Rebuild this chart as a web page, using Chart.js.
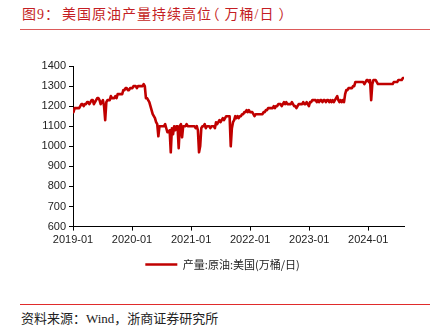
<!DOCTYPE html>
<html>
<head>
<meta charset="utf-8">
<script src="https://cdn.jsdelivr.net/npm/chart.js@4.4.1/dist/chart.umd.min.js"></script>
<style>
	body {
		margin: 0;
		width: 433px;
		height: 336px;
		background: #fff;
		position: relative;
		overflow: hidden;
		font-family: "Liberation Serif", "Noto Sans CJK SC", serif;
	}
	#title {
		position: absolute;
		left: 22px;
		top: 6px;
		font-size: 14px;
		line-height: 18px;
		letter-spacing: 1px;
		color: #c41e24;
		white-space: nowrap;
	}
	#title .unit { font-feature-settings: "palt"; }
	.rule {
		position: absolute;
		left: 20px;
		width: 410px;
		height: 1px;
	}
	#chartBox {
		position: absolute;
		left: 0;
		top: 40px;
		width: 433px;
		height: 250px;
	}
	#source {
		position: absolute;
		left: 21px;
		top: 311px;
		font-size: 13px;
		line-height: 16px;
		color: #222;
		white-space: nowrap;
	}
</style>
</head>
<body>
<div id="title">图9：<span style="margin-left:2px">美国原油产量持续高位</span><span class="unit">（ 万桶/日 ）</span></div>
<div class="rule" style="top:29px;background:#dc5a5a"></div>
<div id="chartBox"><canvas id="oilChart"></canvas></div>
<div class="rule" style="top:304px;background:#e02b2b"></div>
<div id="source">资料来源：Wind，浙商证券研究所</div>

<script>
// weekly US crude output, 万桶/日, one array per calendar year (Fridays)
const firstWeek = Date.UTC(2019, 0, 4);

const prod2019 = [1170, 1190, 1190, 1190, 1190, 1190, 1200, 1210, 1210, 1200,
	1210, 1210, 1220, 1220, 1210, 1220, 1230, 1230, 1210, 1220,
	1230, 1240, 1240, 1230, 1210, 1220, 1230, 1200, 1130, 1220,
	1230, 1230, 1230, 1250, 1240, 1240, 1240, 1250, 1240, 1260,
	1260, 1260, 1260, 1260, 1280, 1280, 1290, 1290, 1280, 1280,
	1290, 1290];

const prod2020 = [1290, 1300, 1300, 1300, 1290, 1300, 1300, 1300, 1300, 1300,
	1310, 1300, 1240, 1240, 1230, 1220, 1200, 1180, 1160, 1150,
	1140, 1120, 1110, 1050, 1100, 1100, 1100, 1100, 1100, 1110,
	1090, 1070, 1070, 1080, 970, 1090, 1060, 1100, 1080, 1100,
	1100, 990, 1100, 1110, 1045, 1100, 1100, 1100, 1110, 1100,
	1100, 1100];

const prod2021 = [1100, 1100, 1100, 1100, 1090, 1100, 1080, 970, 1000, 1090,
	1100, 1100, 1110, 1090, 1100, 1100, 1100, 1090, 1100, 1100,
	1100, 1090, 1120, 1110, 1120, 1130, 1120, 1130, 1140, 1130,
	1140, 1150, 1150, 1150, 1150, 1000, 1090, 1120, 1130, 1150,
	1140, 1150, 1140, 1150, 1150, 1160, 1160, 1170, 1170, 1180,
	1170, 1180, 1170];

const prod2022 = [1170, 1170, 1160, 1150, 1160, 1160, 1160, 1160, 1160, 1160,
	1160, 1170, 1170, 1180, 1180, 1190, 1190, 1190, 1190, 1190,
	1200, 1190, 1200, 1200, 1210, 1210, 1210, 1200, 1210, 1220,
	1210, 1220, 1210, 1210, 1210, 1210, 1220, 1210, 1200, 1200,
	1190, 1200, 1210, 1210, 1210, 1210, 1220, 1210, 1210, 1220,
	1210, 1200];

const prod2023 = [1220, 1220, 1230, 1230, 1230, 1230, 1220, 1230, 1220, 1230,
	1230, 1220, 1230, 1230, 1220, 1230, 1230, 1220, 1230, 1220,
	1230, 1220, 1230, 1240, 1250, 1230, 1220, 1230, 1220, 1230,
	1220, 1260, 1280, 1280, 1290, 1290, 1290, 1290, 1300, 1300,
	1320, 1320, 1320, 1320, 1320, 1320, 1320, 1320, 1310, 1320,
	1330, 1330];

const prod2024 = [1320, 1330, 1230, 1310, 1330, 1330, 1330, 1320, 1310, 1310,
	1310, 1310, 1310, 1310, 1310, 1310, 1310, 1310, 1310, 1310,
	1310, 1310, 1320, 1320, 1320, 1320, 1330, 1330, 1330, 1330,
	1340, 1340];

const yearTicks = [2019, 2020, 2021, 2022, 2023, 2024];
const tickLabels = ['2019-01', '2020-01', '2021-01', '2022-01', '2023-01', '2024-01'];
const seriesName = '产量:原油:美国(万桶/日)';

const production = [].concat(prod2019, prod2020, prod2021, prod2022, prod2023, prod2024);

// date (ms) -> decimal year, so the linear axis can put ticks on january 1st
function toYear(ms)
{
	const y = new Date(ms).getUTCFullYear();
	const start = Date.UTC(y, 0, 1);
	const end = Date.UTC(y + 1, 0, 1);
	return y + (ms - start) / (end - start);
}

const points = production.map((v, i) => ({
	x: toYear(firstWeek + i * 7 * 86400000),
	y: v
}));

document.addEventListener('DOMContentLoaded', function()
{
	const ctx = document.getElementById('oilChart').getContext('2d');
	new Chart(ctx, {
		type: 'line',
		data: {
			datasets: [{
				label: seriesName,
				data: points,
				borderColor: '#c00000',
				backgroundColor: '#c00000',
				borderWidth: 2.6,
				borderJoinStyle: 'round',
				borderCapStyle: 'round',
				pointRadius: 0,
				tension: 0
			}]
		},
		options: {
			responsive: true,
			maintainAspectRatio: false,
			animation: false,
			layout: {
				padding: { top: 26, left: 41, right: 29, bottom: 10 }
			},
			plugins: {
				tooltip: { enabled: false },
				legend: {
					display: true,
					position: 'bottom',
					labels: {
						usePointStyle: true,
						pointStyle: 'line',
						pointStyleWidth: 32,
						padding: 10,
						color: '#222',
						font: { family: '"Noto Sans CJK SC"', size: 11 }
					}
				}
			},
			scales: {
				x: {
					type: 'linear',
					min: 2019,
					max: 2024.605,
					afterBuildTicks: function(scale) {
						scale.ticks = yearTicks.map(v => ({ value: v }));
					},
					afterFit: function(scale) {
						scale.height = 22.4;
					},
					ticks: {
						padding: 3,
						color: '#222',
						maxRotation: 0,
						font: { family: '"Liberation Sans"', size: 11 },
						callback: function(value) {
							const i = yearTicks.indexOf(value);
							return i >= 0 ? tickLabels[i] : '';
						}
					},
					grid: { drawOnChartArea: false, drawTicks: true, tickLength: 4, color: '#000' },
					border: { display: true, color: '#000', width: 1 }
				},
				y: {
					min: 600,
					max: 1400,
					afterFit: function(scale) {
						scale.width = 32;
					},
					ticks: {
						stepSize: 100,
						padding: 3,
						color: '#222',
						font: { family: '"Liberation Sans"', size: 11 },
						callback: function(value) {
							return String(value);
						}
					},
					grid: { drawOnChartArea: false, drawTicks: true, tickLength: 4, color: '#000' },
					border: { display: true, color: '#000', width: 1 }
				}
			}
		}
	});
});
</script>
</body>
</html>
